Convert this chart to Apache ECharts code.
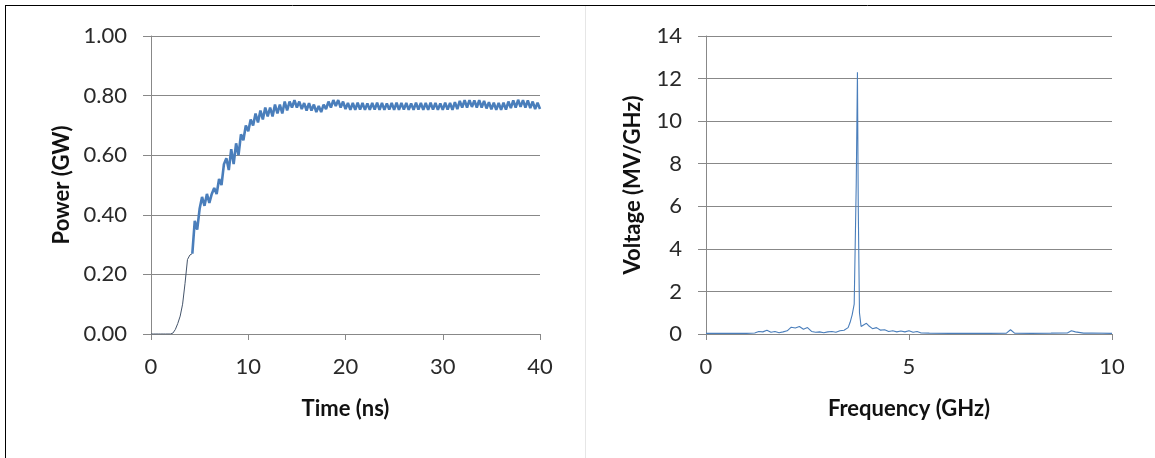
<!DOCTYPE html>
<html>
<head>
<meta charset="utf-8">
<script src="https://cdn.jsdelivr.net/npm/echarts@6/dist/echarts.min.js"></script>
<style>
  html, body { margin: 0; padding: 0; background: #fff; }
  #main { width: 1155px; height: 458px; }
</style>
</head>
<body>
<div id="main"></div>
<script>
// left panel: output power, sampled every 0.25 ns from 0 ns
var timeStep = 0.25;
var powerGW = [
  0, 0, 0, 0, 0, 0, 0, 0, 0,
  0.003, 0.015, 0.035, 0.06, 0.10, 0.17, 0.25, 0.265, 0.27, 0.38, 0.35,
  0.42, 0.46, 0.43, 0.47, 0.44, 0.47, 0.49, 0.47, 0.52, 0.50,
  0.57, 0.59, 0.55, 0.62, 0.57, 0.64, 0.60, 0.67, 0.65, 0.70,
  0.68, 0.72, 0.70, 0.74, 0.71, 0.75, 0.72, 0.76, 0.73, 0.76,
  0.73, 0.77, 0.74, 0.77, 0.74, 0.78, 0.75, 0.78, 0.76, 0.785,
  0.76, 0.78, 0.755, 0.775, 0.75, 0.775, 0.75, 0.77, 0.745, 0.765,
  0.745, 0.77, 0.755, 0.78, 0.76, 0.785, 0.765, 0.785, 0.76, 0.78,
  0.755, 0.775, 0.752, 0.775, 0.752, 0.776, 0.753, 0.775, 0.752, 0.774,
  0.752, 0.775, 0.753, 0.776, 0.752, 0.775, 0.752, 0.774, 0.753, 0.775,
  0.752, 0.776, 0.752, 0.775, 0.753, 0.775, 0.752, 0.774, 0.752, 0.776,
  0.753, 0.775, 0.752, 0.775, 0.752, 0.776, 0.753, 0.775, 0.752, 0.774,
  0.752, 0.776, 0.753, 0.775, 0.752, 0.778, 0.755, 0.782, 0.76, 0.785,
  0.76, 0.785, 0.762, 0.784, 0.76, 0.785, 0.76, 0.782, 0.757, 0.778,
  0.754, 0.776, 0.752, 0.775, 0.752, 0.776, 0.753, 0.78, 0.758, 0.784,
  0.76, 0.786, 0.762, 0.785, 0.76, 0.784, 0.758, 0.78, 0.755, 0.776,
  0.755
];
// index where the trace turns from the thin rise into the thick oscillating band
var bandStart = 17;

// right panel: spectrum
var freqGHz = [
  0, 0.5, 1.0, 1.2, 1.3, 1.4, 1.5, 1.6, 1.7, 1.8, 1.9, 2.0, 2.1, 2.2, 2.3, 2.4,
  2.5, 2.6, 2.7, 2.8, 2.9, 3.0, 3.1, 3.2, 3.3, 3.4, 3.5, 3.55, 3.6, 3.65, 3.7,
  3.73, 3.75, 3.78, 3.82, 3.9, 3.95, 4.0, 4.1, 4.2, 4.3, 4.4, 4.5, 4.6, 4.7,
  4.8, 4.9, 5.0, 5.1, 5.2, 5.3, 5.5, 6.0, 6.5, 7.0, 7.4, 7.5, 7.6, 8.0, 8.5,
  8.9, 9.0, 9.1, 9.3, 9.5, 10
];
var voltMV = [
  0.03, 0.03, 0.03, 0.05, 0.12, 0.1, 0.18, 0.08, 0.12, 0.06, 0.1, 0.15, 0.32, 0.28, 0.35, 0.22,
  0.3, 0.12, 0.08, 0.1, 0.06, 0.1, 0.12, 0.08, 0.15, 0.18, 0.3, 0.55, 0.9, 1.4, 7.0,
  12.3, 6.0, 1.0, 0.35, 0.45, 0.5, 0.4, 0.25, 0.3, 0.18, 0.2, 0.12, 0.15, 0.1,
  0.14, 0.1, 0.15, 0.08, 0.12, 0.05, 0.04, 0.03, 0.03, 0.03, 0.04, 0.2, 0.04, 0.03, 0.04,
  0.05, 0.15, 0.1, 0.04, 0.05, 0.03
];

var powerData = powerGW.map(function (v, i) { return [i * timeStep, v]; });
var specData = freqGHz.map(function (f, i) { return [f, voltMV[i]]; });

var font = "Lato, 'Liberation Sans', sans-serif";
var gridColor = "#888888";
var lineBlue = "#4a7ebb";

function xAxisOf(idx, max, interval, name) {
  return {
    gridIndex: idx,
    type: "value",
    min: 0,
    max: max,
    interval: interval,
    name: name,
    nameLocation: "middle",
    nameGap: 64,
    nameTextStyle: { fontFamily: font, fontSize: 22, fontWeight: "bold", color: "#111" },
    axisLine: { show: true, lineStyle: { color: gridColor, width: 1 } },
    axisTick: { show: true, length: 6, lineStyle: { color: gridColor } },
    axisLabel: { fontFamily: font, fontSize: 22, color: "#2a2a2a", margin: 22 },
    splitLine: { show: false }
  };
}

function yAxisOf(idx, max, interval, name, digits, gap) {
  return {
    gridIndex: idx,
    type: "value",
    min: 0,
    max: max,
    interval: interval,
    name: name,
    nameLocation: "middle",
    nameGap: gap,
    nameTextStyle: { fontFamily: font, fontSize: 22, fontWeight: "bold", color: "#111" },
    axisLine: { show: true, lineStyle: { color: gridColor, width: 1 } },
    axisTick: { show: true, length: 8, lineStyle: { color: gridColor } },
    axisLabel: {
      fontFamily: font, fontSize: 22, color: "#2a2a2a", margin: 24,
      formatter: function (v) { return v.toFixed(digits); }
    },
    splitLine: { show: true, lineStyle: { color: gridColor, width: 1 } }
  };
}

var myChart = echarts.init(document.getElementById("main"));
myChart.setOption({
  animation: false,
  backgroundColor: "#fff",
  graphic: [
    { type: "line", shape: { x1: 5, y1: 5.5, x2: 1155, y2: 5.5 }, style: { stroke: "#000", lineWidth: 1 } },
    { type: "line", shape: { x1: 5.5, y1: 5, x2: 5.5, y2: 458 }, style: { stroke: "#000", lineWidth: 1 } },
    { type: "line", shape: { x1: 585.5, y1: 6, x2: 585.5, y2: 458 }, style: { stroke: "#e6e6e6", lineWidth: 1 } }
  ],
  grid: [
    { left: 151, right: 615, top: 36, bottom: 124 },
    { left: 706, right: 43, top: 36, bottom: 124 }
  ],
  xAxis: [
    xAxisOf(0, 40, 10, "Time (ns)"),
    xAxisOf(1, 10, 5, "Frequency (GHz)")
  ],
  yAxis: [
    yAxisOf(0, 1, 0.2, "Power (GW)", 2, 78),
    yAxisOf(1, 14, 2, "Voltage (MV/GHz)", 0, 62)
  ],
  series: [
    {
      type: "line",
      xAxisIndex: 0,
      yAxisIndex: 0,
      data: powerData.slice(0, bandStart + 1),
      showSymbol: false,
      lineStyle: { color: "#44546a", width: 1 },
      z: 3
    },
    {
      type: "line",
      xAxisIndex: 0,
      yAxisIndex: 0,
      data: powerData.slice(bandStart),
      showSymbol: false,
      lineStyle: { color: lineBlue, width: 2.6 },
      z: 3
    },
    {
      type: "line",
      xAxisIndex: 1,
      yAxisIndex: 1,
      data: specData,
      showSymbol: false,
      lineStyle: { color: lineBlue, width: 1.1 },
      z: 3
    }
  ]
});
</script>
</body>
</html>
